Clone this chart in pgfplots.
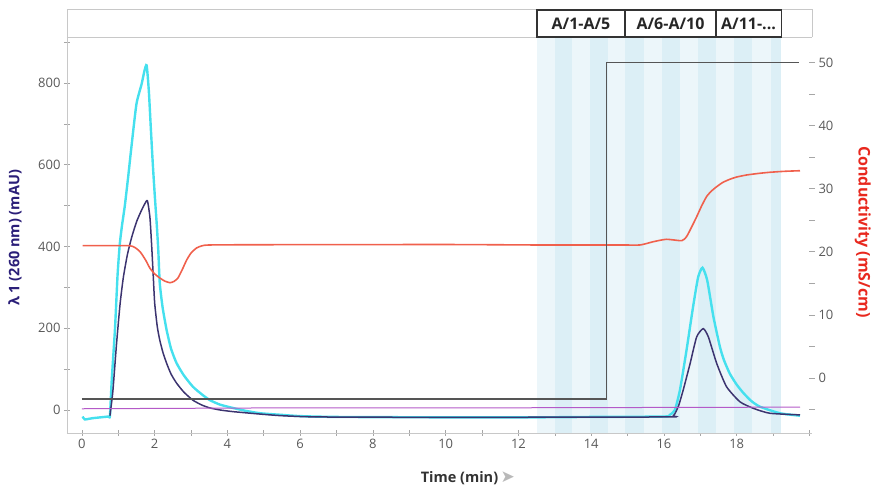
\documentclass[border=0pt]{standalone}
\usepackage{pgfplots}
\pgfplotsset{compat=1.18}
\usepackage{fontspec}
\setmainfont{Open Sans}
\newfontfamily\dejavu{DejaVu Sans}
\definecolor{UVcyan}{HTML}{45E0EE}
\definecolor{UVnavy}{HTML}{3C3470}
\definecolor{Cond}{HTML}{F0604C}
\definecolor{CondLbl}{HTML}{E8281E}
\definecolor{Conc}{HTML}{555555}
\definecolor{Mag}{HTML}{B45AC8}
\definecolor{NavyLbl}{HTML}{2A1E78}
\definecolor{StripeA}{HTML}{ECF6FA}
\definecolor{StripeB}{HTML}{DCEFF6}
\definecolor{Frame}{HTML}{C8C8C8}

\begin{document}
\begin{tikzpicture}
\path[use as bounding box] (-67pt,-57pt) rectangle (804pt,433pt);
\begin{axis}[
  at={(0pt,0pt)}, anchor=south west,
  scale only axis, width=745pt, height=424pt,
  xmin=-0.41, xmax=20.07, ymin=-56.3, ymax=981,
  clip=false,
  axis x line=bottom, axis y line=left,
  axis line style={draw=Frame,-},
  xtick={0,2,...,18}, minor xtick={1,3,...,19,20},
  ytick={0,200,...,800}, minor ytick={100,300,...,900},
  tick align=center, major tick length=6pt, minor tick length=6pt,
  tick style={color=gray!70,line width=0.6pt},
  tick label style={font=\fontsize{13}{15}\selectfont,text=black!65},
  /pgf/number format/assume math mode=true,
  xlabel={\textbf{Time (min)}\,{\dejavu\fontsize{17}{17}\selectfont\color{gray!55}➤}},
  xlabel style={at={(axis description cs:0.538,-0.106)},anchor=center,
                font=\fontsize{14.5}{17}\selectfont,text=black!80},
  ylabel={\textbf{λ 1 (260 nm) (mAU)}},
  ylabel style={at={(axis description cs:-0.070,0.46)},anchor=center,
                font=\fontsize{14.5}{17}\selectfont,text=NavyLbl},
]
% fraction stripes
\addplot[fill=StripeA,draw=none] coordinates {(12.51,-56.3) (12.51,912.5) (19.22,912.5) (19.22,-56.3)};
\addplot[fill=StripeB,draw=none] coordinates {(13.00,-56.3) (13.00,912.5) (13.48,912.5) (13.48,-56.3)};
\addplot[fill=StripeB,draw=none] coordinates {(13.97,-56.3) (13.97,912.5) (14.45,912.5) (14.45,-56.3)};
\addplot[fill=StripeB,draw=none] coordinates {(14.94,-56.3) (14.94,912.5) (15.44,912.5) (15.44,-56.3)};
\addplot[fill=StripeB,draw=none] coordinates {(15.94,-56.3) (15.94,912.5) (16.43,912.5) (16.43,-56.3)};
\addplot[fill=StripeB,draw=none] coordinates {(16.93,-56.3) (16.93,912.5) (17.43,912.5) (17.43,-56.3)};
\addplot[fill=StripeB,draw=none] coordinates {(17.93,-56.3) (17.93,912.5) (18.43,912.5) (18.43,-56.3)};
\addplot[fill=StripeB,draw=none] coordinates {(18.93,-56.3) (18.93,912.5) (19.22,912.5) (19.22,-56.3)};
% header strip
\draw[Frame,line width=0.8pt] (axis cs:-0.41,912.5) -- (axis cs:20.07,912.5);
\draw[Frame,line width=0.8pt] (axis cs:-0.41,981) -- (axis cs:20.07,981) -- (axis cs:20.07,912.5);
\draw[black!80,line width=1.1pt] (axis cs:12.51,912.5) rectangle (axis cs:14.93,978.6);
\draw[black!80,line width=1.1pt] (axis cs:14.93,912.5) rectangle (axis cs:17.43,978.6);
\draw[black!80,line width=1.1pt] (axis cs:17.43,912.5) rectangle (axis cs:19.22,978.6);
\node[font=\fontsize{16}{18}\selectfont\bfseries,text=black!85] at (axis cs:13.72,945.5) {A/1-A/5};
\node[font=\fontsize{16}{18}\selectfont\bfseries,text=black!85] at (axis cs:16.18,945.5) {A/6-A/10};
\node[font=\fontsize{16}{18}\selectfont\bfseries,text=black!85] at (axis cs:18.325,945.5) {A/11-...};
% UV 280 (cyan)
\addplot[color=UVcyan,line width=2.4pt,mark=none,smooth,tension=0.35] coordinates {
 (0.02,-16) (0.08,-23) (0.3,-20) (0.72,-16) (0.77,-14) (0.82,73) (0.91,200) (0.98,330) (1.04,405) (1.10,450)
 (1.18,500) (1.27,569) (1.37,651) (1.50,749) (1.64,797) (1.72,830) (1.78,843) (1.84,780) (1.90,680) (1.95,600) (2.0,529)
 (2.06,450) (2.10,390) (2.14,310) (2.22,250) (2.33,195) (2.45,150) (2.60,115) (2.8,85) (3.05,57)
 (3.3,38) (3.52,24) (3.8,13) (4.15,5) (4.5,-2) (4.9,-8) (5.5,-12) (6,-15) (7,-17) (10,-18) (12.5,-18)
 (14,-17) (16.0,-16) (16.16,-12) (16.3,0) (16.44,49) (16.62,146) (16.8,252) (16.94,325) (17.06,348)
 (17.19,317) (17.36,228) (17.54,154) (17.65,122) (17.81,89) (18.0,62) (18.18,42) (18.4,22) (18.64,8) (19.19,-8) (19.74,-14)};
% UV 260 (navy)
\addplot[color=UVnavy,line width=1.5pt,mark=none,smooth,tension=0.35] coordinates {
 (0.77,-14) (0.85,45) (0.95,160) (1.05,260) (1.14,325) (1.25,380) (1.37,423) (1.50,460) (1.62,485) (1.72,503) (1.80,512) (1.87,471) (1.92,398)
 (1.96,330) (2.0,262) (2.07,205) (2.14,171) (2.23,140) (2.33,114) (2.45,88) (2.6,66) (2.8,44) (3.05,24)
 (3.3,12) (3.52,5) (3.8,0) (4.15,-4) (4.9,-10) (5.5,-14) (6.5,-17) (10,-18) (16.0,-17) (16.26,-14)
 (16.4,10) (16.53,49) (16.72,114) (16.9,179) (17.08,199) (17.22,179) (17.45,114) (17.72,57) (18.09,20)
 (18.46,4) (18.91,-8) (19.74,-12)};
% magenta trace
\addplot[color=Mag,line width=1pt,mark=none] coordinates {(0,3) (5,5) (10,5) (15,6) (19.74,7)};
\end{axis}
\begin{axis}[
  at={(0pt,0pt)}, anchor=south west,
  scale only axis, width=745pt, height=424pt,
  xmin=-0.41, xmax=20.07, ymin=-8.72, ymax=58.48,
  axis x line=none, axis y line=right,
  y axis line style={draw=none},
  ytick={0,10,...,50}, minor ytick={-5,5,...,45},
  tick align=center, major tick length=6pt, minor tick length=6pt,
  tick style={color=gray!70,line width=0.6pt},
  tick label style={font=\fontsize{13}{15}\selectfont,text=black!65},
  /pgf/number format/assume math mode=true,
  ylabel={\textbf{Conductivity (mS/cm)}},
  ylabel style={at={(axis description cs:1.068,0.474)},anchor=center,rotate=180,
                font=\fontsize{16}{18}\selectfont,text=CondLbl},
]
% conductivity
\addplot[color=Cond,line width=1.6pt,mark=none,smooth,tension=0.35] coordinates {
 (0.02,20.97) (0.6,20.97) (1.3,20.97) (1.45,20.7) (1.6,20.0) (1.75,18.7) (1.87,17.4) (2.0,16.5)
 (2.14,15.85) (2.28,15.35) (2.42,15.1) (2.53,15.3) (2.64,15.85) (2.76,17.2) (2.88,18.7) (3.0,19.8)
 (3.15,20.6) (3.3,20.95) (3.52,21.08) (4.9,21.12) (10,21.15) (12.5,21.08) (14.79,21.08) (15.34,21.08)
 (15.71,21.6) (16.07,21.98) (16.49,21.76) (16.62,22.39) (16.75,23.8) (16.90,25.56) (17.03,27.2)
 (17.17,28.73) (17.3,29.6) (17.45,30.32) (17.62,31.0) (17.81,31.49) (18.0,31.85) (18.27,32.17)
 (18.6,32.42) (18.91,32.6) (19.3,32.75) (19.74,32.85)};
% concentration step
\addplot[color=Conc,line width=1.5pt,mark=none] coordinates {
 (0,-3.35) (14.42,-3.35) (14.42,50) (19.72,50)};
\end{axis}
\end{tikzpicture}
\end{document}
